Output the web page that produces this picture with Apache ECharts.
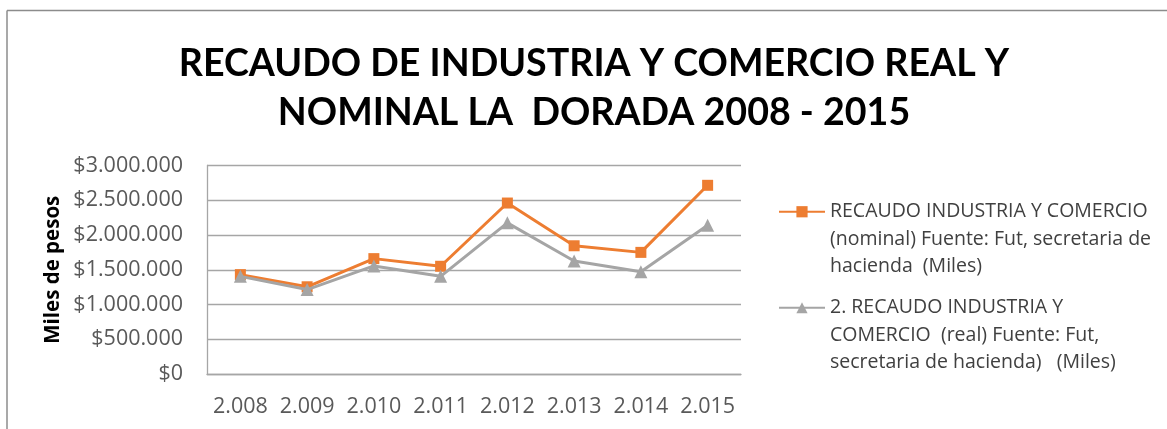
<!DOCTYPE html>
<html>
<head>
<meta charset="utf-8">
<script src="https://cdn.jsdelivr.net/npm/echarts@6/dist/echarts.min.js"></script>
<style>
  html, body { margin: 0; padding: 0; background: #ffffff; }
  #chart { width: 1167px; height: 429px; }
</style>
</head>
<body>
<div id="chart"></div>
<script>
const titleText = 'RECAUDO DE INDUSTRIA Y COMERCIO REAL Y\nNOMINAL LA  DORADA 2008 - 2015';
const yAxisName = 'Miles de pesos';
const categories = ['2.008', '2.009', '2.010', '2.011', '2.012', '2.013', '2.014', '2.015'];
const nominalName = 'RECAUDO INDUSTRIA Y COMERCIO\n(nominal) Fuente: Fut, secretaria de\nhacienda  (Miles)';
const realName = '2. RECAUDO INDUSTRIA Y\nCOMERCIO  (real) Fuente: Fut,\nsecretaria de hacienda)   (Miles)';
const nominalValues = [1430000, 1255000, 1660000, 1550000, 2460000, 1845000, 1750000, 2715000];
const realValues = [1405000, 1215000, 1555000, 1405000, 2175000, 1625000, 1470000, 2140000];
const yTicks = { min: 0, max: 3000000, interval: 500000 };

const chart = echarts.init(document.getElementById('chart'), null, { renderer: 'canvas' });

function money(v) {
  return '$' + String(v).replace(/\B(?=(\d{3})+(?!\d))/g, '.');
}

const legendText = {
  fontFamily: 'Open Sans',
  fontSize: 19.5,
  color: '#404040',
  lineHeight: 27.5
};

function legendFormatter(name) {
  return '\n\n' + name;
}

const option = {
  backgroundColor: '#ffffff',
  animation: false,
  title: {
    text: titleText,
    left: 589,
    textAlign: 'center',
    top: 34,
    textStyle: {
      fontFamily: 'Lato',
      fontWeight: 'bold',
      fontSize: 37.6,
      lineHeight: 49,
      color: '#000000'
    }
  },
  legend: [
    {
      data: [nominalName],
      orient: 'vertical',
      left: 778,
      top: 143,
      padding: 0,
      itemWidth: 46,
      itemHeight: 14,
      itemGap: 0,
      formatter: legendFormatter,
      textStyle: legendText
    },
    {
      data: [realName],
      orient: 'vertical',
      left: 778,
      top: 239,
      padding: 0,
      itemWidth: 46,
      itemHeight: 14,
      itemGap: 0,
      formatter: legendFormatter,
      textStyle: legendText
    }
  ],
  grid: {
    left: 207,
    right: 426,
    top: 165.5,
    bottom: 55,
    containLabel: false
  },
  xAxis: {
    type: 'category',
    data: categories,
    boundaryGap: true,
    axisLine: { show: true, lineStyle: { color: '#a6a6a6', width: 1.3 } },
    axisTick: { show: false },
    axisLabel: {
      fontFamily: 'Open Sans',
      fontSize: 21.5,
      color: '#595959',
      margin: 22,
      interval: 0,
      hideOverlap: false
    },
    splitLine: { show: false }
  },
  yAxis: {
    type: 'value',
    min: yTicks.min,
    max: yTicks.max,
    interval: yTicks.interval,
    name: yAxisName,
    nameLocation: 'middle',
    nameRotate: 90,
    nameGap: 143,
    nameTextStyle: {
      fontFamily: 'Open Sans',
      fontWeight: 'bold',
      fontSize: 20.5,
      color: '#000000'
    },
    axisLine: { show: true, lineStyle: { color: '#a6a6a6', width: 1.3 } },
    axisTick: { show: false },
    axisLabel: {
      fontFamily: 'Open Sans',
      fontSize: 21.5,
      color: '#595959',
      margin: 24,
      formatter: money
    },
    splitLine: { show: true, lineStyle: { color: '#a6a6a6', width: 1.3 } }
  },
  series: [
    {
      name: nominalName,
      type: 'line',
      data: nominalValues,
      symbol: 'rect',
      symbolSize: 11,
      showAllSymbol: true,
      lineStyle: { color: '#ED7D31', width: 3 },
      itemStyle: { color: '#ED7D31' },
      z: 2
    },
    {
      name: realName,
      type: 'line',
      data: realValues,
      symbol: 'triangle',
      symbolSize: 13,
      showAllSymbol: true,
      lineStyle: { color: '#A5A5A5', width: 3 },
      itemStyle: { color: '#A5A5A5' },
      z: 3
    }
  ],
  graphic: [
    {
      type: 'line',
      shape: { x1: 7, y1: 10.5, x2: 1167, y2: 10.5 },
      style: { stroke: '#8c8c8c', lineWidth: 1.5 },
      silent: true
    },
    {
      type: 'line',
      shape: { x1: 7, y1: 10.5, x2: 7, y2: 429 },
      style: { stroke: '#8c8c8c', lineWidth: 1.5 },
      silent: true
    }
  ]
};

chart.setOption(option);
</script>
</body>
</html>
